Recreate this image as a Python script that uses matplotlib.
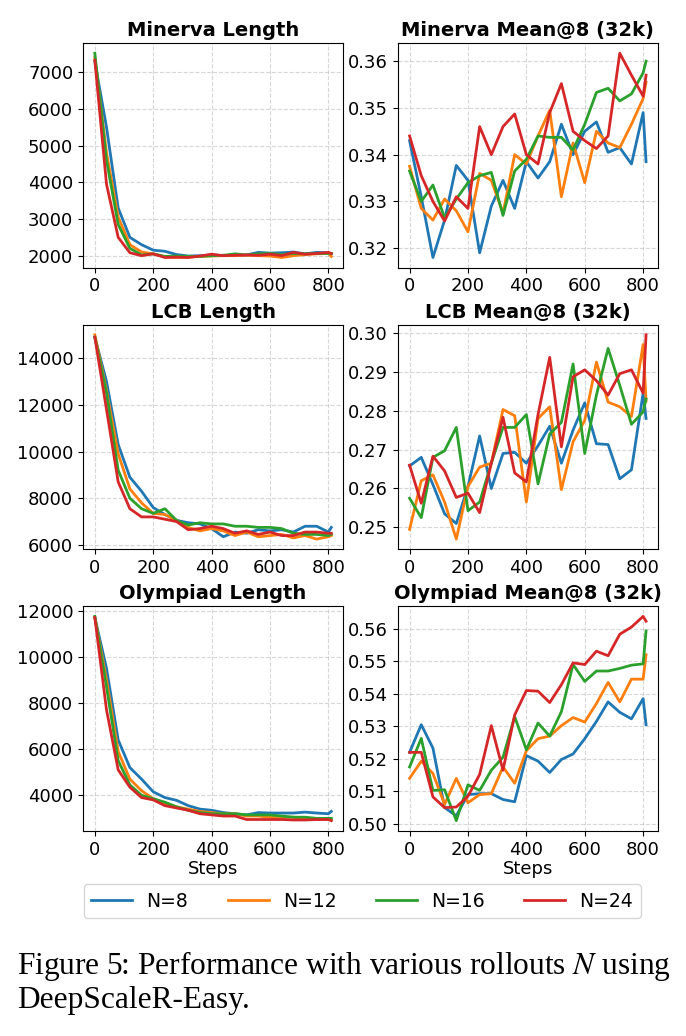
import matplotlib
matplotlib.use("Agg")
import matplotlib.pyplot as plt

plt.rcParams["font.family"] = "DejaVu Sans"
plt.rcParams["mathtext.fontset"] = "stix"

steps = [0, 40, 80, 120, 160, 200, 240, 280, 320, 360, 400, 440, 480, 520,
         560, 600, 640, 680, 720, 760, 800, 810]
labels = ["N=8", "N=12", "N=16", "N=24"]
colors = ["#1f77b4", "#ff7f0e", "#2ca02c", "#d62728"]

# Minerva
minerva_len = [
    [7300, 5500, 3300, 2500, 2300, 2150, 2120, 2030, 1990, 2000, 2000, 2010, 2000, 2020, 2090, 2070, 2080, 2100, 2050, 2090, 2080, 2050],
    [7400, 4800, 3050, 2300, 2100, 2050, 1970, 1950, 1960, 1980, 1990, 2000, 2000, 2010, 2000, 1990, 1950, 2000, 2030, 2050, 2060, 1980],
    [7520, 4600, 2850, 2200, 2020, 2050, 1980, 1990, 1980, 1980, 2000, 2010, 2050, 2020, 2050, 2060, 2030, 2060, 2050, 2060, 2060, 2060],
    [7330, 3950, 2500, 2080, 2000, 2050, 1950, 1960, 1950, 1990, 2040, 2000, 2010, 2020, 2010, 2040, 2000, 2090, 2040, 2060, 2090, 2060],
]
minerva_acc = [
    [0.343, 0.331, 0.318, 0.326, 0.3377, 0.3345, 0.319, 0.329, 0.3345, 0.3285, 0.3385, 0.335, 0.3385, 0.3465, 0.340, 0.345, 0.347, 0.3405, 0.3415, 0.338, 0.349, 0.3385],
    [0.3375, 0.3285, 0.326, 0.3305, 0.328, 0.3235, 0.336, 0.3345, 0.3275, 0.340, 0.338, 0.344, 0.3495, 0.331, 0.3425, 0.334, 0.345, 0.3425, 0.3415, 0.3465, 0.352, 0.3555],
    [0.3365, 0.330, 0.3335, 0.3265, 0.3305, 0.334, 0.3355, 0.3362, 0.327, 0.3365, 0.339, 0.344, 0.3437, 0.3437, 0.341, 0.3465, 0.3533, 0.3542, 0.3515, 0.353, 0.3575, 0.360],
    [0.344, 0.3355, 0.330, 0.3258, 0.331, 0.3285, 0.346, 0.340, 0.346, 0.3487, 0.340, 0.338, 0.349, 0.3552, 0.345, 0.343, 0.3413, 0.344, 0.3617, 0.357, 0.3525, 0.357],
]

# LCB
lcb_len = [
    [14900, 13000, 10300, 8900, 8300, 7600, 7300, 7050, 6950, 6900, 6700, 6350, 6550, 6500, 6650, 6600, 6650, 6550, 6800, 6800, 6550, 6750],
    [15000, 12600, 9900, 8400, 7800, 7350, 7300, 7050, 6750, 6600, 6700, 6600, 6400, 6550, 6350, 6400, 6450, 6300, 6400, 6250, 6350, 6400],
    [14900, 12500, 9200, 8000, 7550, 7350, 7550, 7050, 6850, 6950, 6900, 6900, 6800, 6800, 6750, 6750, 6700, 6500, 6450, 6450, 6400, 6450],
    [14900, 11800, 8700, 7550, 7200, 7200, 7100, 7000, 6650, 6700, 6800, 6700, 6500, 6600, 6450, 6550, 6400, 6400, 6550, 6550, 6500, 6500],
]
lcb_acc = [
    [0.2658, 0.268, 0.261, 0.2535, 0.251, 0.2605, 0.2735, 0.260, 0.269, 0.2693, 0.2665, 0.271, 0.276, 0.2665, 0.275, 0.282, 0.2715, 0.2713, 0.2625, 0.2648, 0.2845, 0.278],
    [0.2495, 0.262, 0.2635, 0.2565, 0.247, 0.2605, 0.2655, 0.2665, 0.2803, 0.2787, 0.2565, 0.278, 0.281, 0.2597, 0.272, 0.2775, 0.2925, 0.2822, 0.281, 0.2785, 0.297, 0.2825],
    [0.2575, 0.2525, 0.268, 0.2697, 0.2757, 0.2543, 0.2565, 0.2665, 0.2757, 0.2757, 0.279, 0.2612, 0.274, 0.277, 0.292, 0.269, 0.284, 0.296, 0.2865, 0.2765, 0.2797, 0.283],
    [0.266, 0.2562, 0.2683, 0.2645, 0.2577, 0.2588, 0.2538, 0.2665, 0.2783, 0.264, 0.2617, 0.279, 0.2937, 0.2707, 0.2887, 0.2905, 0.2877, 0.284, 0.2895, 0.2905, 0.2845, 0.2995],
]

# Olympiad
oly_len = [
    [11700, 9500, 6400, 5200, 4700, 4150, 3900, 3780, 3550, 3400, 3350, 3250, 3200, 3150, 3250, 3230, 3230, 3230, 3270, 3230, 3200, 3300],
    [11700, 9000, 5900, 4700, 4200, 3850, 3650, 3500, 3400, 3300, 3250, 3200, 3200, 3100, 3100, 3050, 3050, 3050, 3000, 2950, 2950, 2950],
    [11750, 8700, 5500, 4450, 4000, 3850, 3700, 3500, 3350, 3250, 3200, 3200, 3200, 3150, 3150, 3150, 3100, 3050, 3050, 3000, 3000, 3000],
    [11700, 7700, 5100, 4350, 3900, 3800, 3550, 3450, 3350, 3200, 3150, 3100, 3100, 2950, 2950, 2950, 2950, 2930, 2930, 2950, 2950, 2900],
]
oly_acc = [
    [0.522, 0.5305, 0.5233, 0.505, 0.5025, 0.509, 0.5093, 0.5093, 0.5075, 0.5068, 0.521, 0.5193, 0.5158, 0.5198, 0.5215, 0.5262, 0.5315, 0.5375, 0.5343, 0.5323, 0.5385, 0.5305],
    [0.514, 0.5193, 0.5155, 0.506, 0.514, 0.5065, 0.509, 0.5093, 0.5175, 0.5125, 0.5225, 0.5262, 0.527, 0.5302, 0.5327, 0.5313, 0.537, 0.5435, 0.5375, 0.5445, 0.5445, 0.552],
    [0.5175, 0.5263, 0.5103, 0.5105, 0.501, 0.512, 0.5103, 0.5165, 0.5205, 0.533, 0.5228, 0.531, 0.527, 0.5345, 0.549, 0.5438, 0.547, 0.547, 0.5478, 0.5488, 0.5492, 0.5593],
    [0.522, 0.522, 0.5083, 0.505, 0.5052, 0.5085, 0.5152, 0.5302, 0.5165, 0.5335, 0.541, 0.5408, 0.5373, 0.5428, 0.5495, 0.549, 0.5531, 0.5517, 0.5583, 0.5605, 0.5638, 0.5623],
]

panels = [
    ("Minerva Length", minerva_len), ("Minerva Mean@8 (32k)", minerva_acc),
    ("LCB Length", lcb_len), ("LCB Mean@8 (32k)", lcb_acc),
    ("Olympiad Length", oly_len), ("Olympiad Mean@8 (32k)", oly_acc),
]

fig, axes = plt.subplots(3, 2, figsize=(6.86, 10.36), dpi=100)
fig.subplots_adjust(left=0.121, right=0.959, top=0.9585, bottom=0.198,
                    wspace=0.21, hspace=0.253)

for ax, (title, series) in zip(axes.flat, panels):
    for vals, lab, col in zip(series, labels, colors):
        ax.plot(steps, vals, color=col, lw=2, label=lab)
    ax.set_title(title, fontsize=14, fontweight="bold", pad=5)
    ax.set_xticks([0, 200, 400, 600, 800])
    ax.tick_params(labelsize=13)
    ax.grid(True, linestyle="--", alpha=0.5)

axes[0, 0].set_yticks([2000, 3000, 4000, 5000, 6000, 7000])
axes[0, 1].set_yticks([0.32, 0.33, 0.34, 0.35, 0.36])
axes[1, 1].set_yticks([0.25, 0.26, 0.27, 0.28, 0.29, 0.30])
axes[1, 1].set_yticklabels(["0.25", "0.26", "0.27", "0.28", "0.29", "0.30"])
axes[2, 1].set_yticks([0.50, 0.51, 0.52, 0.53, 0.54, 0.55, 0.56])
axes[2, 1].set_yticklabels(["0.50", "0.51", "0.52", "0.53", "0.54", "0.55", "0.56"])

for ax in axes[2]:
    ax.set_xlabel("Steps", fontsize=13, labelpad=1)

handles, labs = axes[0, 0].get_legend_handles_labels()
fig.legend(handles, labs, loc="center", bbox_to_anchor=(0.528, 0.1303), ncol=4,
           fontsize=13.5, handlelength=2.2, columnspacing=2.1, handletextpad=0.75,
           frameon=True)

fig.text(0.025, 0.068, "Figure 5: Performance with various rollouts $N$ using",
         fontsize=22.6, family="Liberation Serif", ha="left", va="center")
fig.text(0.025, 0.034, "DeepScaleR-Easy.",
         fontsize=22.6, family="Liberation Serif", ha="left", va="center")

fig.savefig("out.png", dpi=100)
